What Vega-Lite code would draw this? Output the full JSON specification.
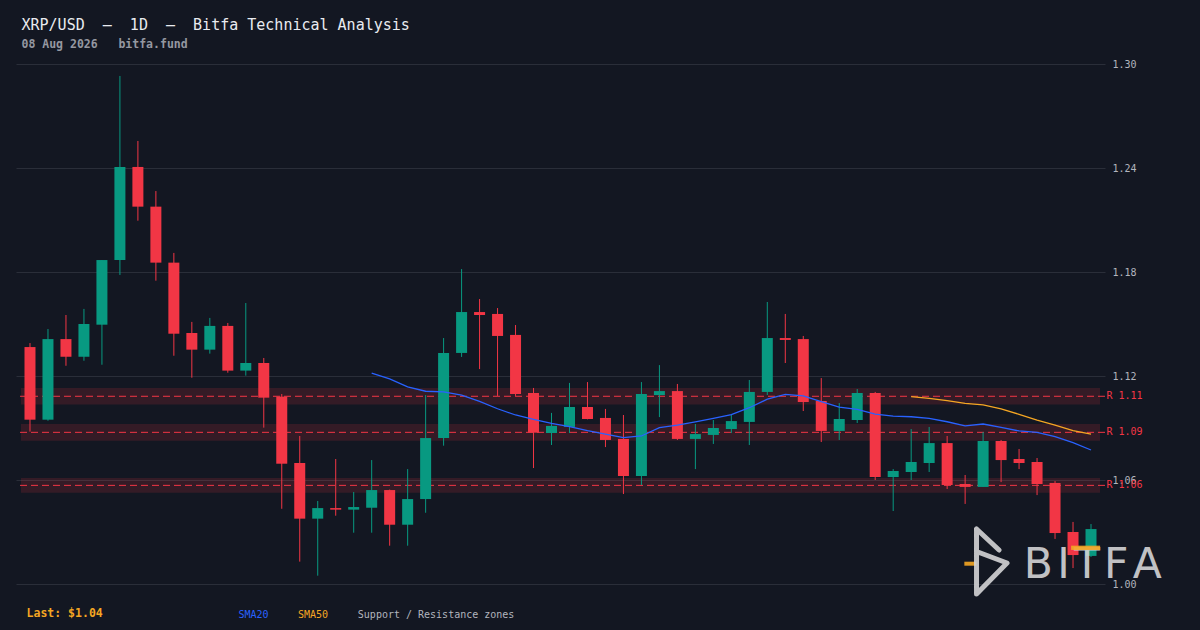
{
  "$schema": "https://vega.github.io/schema/vega-lite/v6.json",
  "autosize": "none",
  "width": 1089,
  "height": 520,
  "padding": {"left": 16, "top": 64, "right": 95, "bottom": 46},
  "background": "#131722",
  "title": {
    "text": "XRP/USD\u00a0\u00a0–\u00a0\u00a01D\u00a0\u00a0–\u00a0\u00a0Bitfa Technical Analysis",
    "subtitle": "08 Aug 2026\u00a0\u00a0\u00a0bitfa.fund",
    "anchor": "start",
    "dx": 6,
    "offset": 9,
    "font": "DejaVu Sans Mono",
    "fontSize": 15,
    "fontWeight": "normal",
    "color": "#e9ebf0",
    "subtitleFont": "DejaVu Sans Mono",
    "subtitleFontSize": 11.5,
    "subtitleFontWeight": "bold",
    "subtitleColor": "#9598a1",
    "subtitlePadding": 6
  },
  "config": {"view": {"stroke": null}},
  "datasets": {
    "candles": [
      {"i": 1, "o": 1.1367, "h": 1.139, "l": 1.0879, "c": 1.0948, "s20": null, "s50": null},
      {"i": 2, "o": 1.0948, "h": 1.1471, "l": 1.0942, "c": 1.1413, "s20": null, "s50": null},
      {"i": 3, "o": 1.1413, "h": 1.1552, "l": 1.1259, "c": 1.1311, "s20": null, "s50": null},
      {"i": 4, "o": 1.1311, "h": 1.1587, "l": 1.1288, "c": 1.15, "s20": null, "s50": null},
      {"i": 5, "o": 1.1496, "h": 1.1869, "l": 1.1265, "c": 1.1869, "s20": null, "s50": null},
      {"i": 6, "o": 1.1869, "h": 1.2931, "l": 1.1783, "c": 1.2406, "s20": null, "s50": null},
      {"i": 7, "o": 1.2406, "h": 1.2556, "l": 1.2096, "c": 1.2177, "s20": null, "s50": null},
      {"i": 8, "o": 1.2177, "h": 1.2267, "l": 1.175, "c": 1.1854, "s20": null, "s50": null},
      {"i": 9, "o": 1.1854, "h": 1.191, "l": 1.1317, "c": 1.1444, "s20": null, "s50": null},
      {"i": 10, "o": 1.1448, "h": 1.1512, "l": 1.119, "c": 1.1352, "s20": null, "s50": null},
      {"i": 11, "o": 1.1352, "h": 1.1535, "l": 1.1329, "c": 1.1489, "s20": null, "s50": null},
      {"i": 12, "o": 1.1489, "h": 1.1506, "l": 1.1219, "c": 1.1231, "s20": null, "s50": null},
      {"i": 13, "o": 1.1231, "h": 1.1621, "l": 1.1202, "c": 1.1275, "s20": null, "s50": null},
      {"i": 14, "o": 1.1275, "h": 1.1304, "l": 1.0902, "c": 1.1075, "s20": null, "s50": null},
      {"i": 15, "o": 1.1081, "h": 1.1096, "l": 1.0434, "c": 1.0694, "s20": null, "s50": null},
      {"i": 16, "o": 1.0698, "h": 1.0854, "l": 1.0129, "c": 1.0377, "s20": null, "s50": null},
      {"i": 17, "o": 1.0377, "h": 1.0479, "l": 1.0048, "c": 1.0438, "s20": null, "s50": null},
      {"i": 18, "o": 1.0438, "h": 1.0721, "l": 1.0394, "c": 1.0429, "s20": null, "s50": null},
      {"i": 19, "o": 1.0429, "h": 1.0531, "l": 1.0296, "c": 1.0444, "s20": null, "s50": null},
      {"i": 20, "o": 1.044, "h": 1.0715, "l": 1.0296, "c": 1.0542, "s20": 1.1216, "s50": null},
      {"i": 21, "o": 1.0542, "h": 1.0545, "l": 1.0221, "c": 1.0342, "s20": 1.1183, "s50": null},
      {"i": 22, "o": 1.0342, "h": 1.0663, "l": 1.0221, "c": 1.049, "s20": 1.1137, "s50": null},
      {"i": 23, "o": 1.049, "h": 1.109, "l": 1.0411, "c": 1.0842, "s20": 1.1112, "s50": null},
      {"i": 24, "o": 1.0842, "h": 1.1419, "l": 1.0798, "c": 1.1333, "s20": 1.1108, "s50": null},
      {"i": 25, "o": 1.1333, "h": 1.1817, "l": 1.131, "c": 1.1569, "s20": 1.109, "s50": null},
      {"i": 26, "o": 1.1569, "h": 1.1644, "l": 1.124, "c": 1.1552, "s20": 1.1054, "s50": null},
      {"i": 27, "o": 1.1558, "h": 1.1592, "l": 1.1085, "c": 1.1431, "s20": 1.1011, "s50": null},
      {"i": 28, "o": 1.1437, "h": 1.1494, "l": 1.1085, "c": 1.1096, "s20": 1.0975, "s50": null},
      {"i": 29, "o": 1.1102, "h": 1.1131, "l": 1.0669, "c": 1.0873, "s20": 1.095, "s50": null},
      {"i": 30, "o": 1.0871, "h": 1.0987, "l": 1.0802, "c": 1.0912, "s20": 1.0927, "s50": null},
      {"i": 31, "o": 1.0906, "h": 1.116, "l": 1.0871, "c": 1.1021, "s20": 1.0908, "s50": null},
      {"i": 32, "o": 1.1021, "h": 1.1165, "l": 1.095, "c": 1.0952, "s20": 1.0885, "s50": null},
      {"i": 33, "o": 1.0958, "h": 1.101, "l": 1.079, "c": 1.0831, "s20": 1.0865, "s50": null},
      {"i": 34, "o": 1.0837, "h": 1.0975, "l": 1.0519, "c": 1.0623, "s20": 1.0844, "s50": null},
      {"i": 35, "o": 1.0623, "h": 1.1165, "l": 1.0571, "c": 1.1096, "s20": 1.0854, "s50": null},
      {"i": 36, "o": 1.109, "h": 1.1263, "l": 1.0963, "c": 1.1113, "s20": 1.0902, "s50": null},
      {"i": 37, "o": 1.1113, "h": 1.1154, "l": 1.0831, "c": 1.0837, "s20": 1.0916, "s50": null},
      {"i": 38, "o": 1.0837, "h": 1.0923, "l": 1.0663, "c": 1.0865, "s20": 1.0935, "s50": null},
      {"i": 39, "o": 1.086, "h": 1.0946, "l": 1.0808, "c": 1.09, "s20": 1.0956, "s50": null},
      {"i": 40, "o": 1.0894, "h": 1.0975, "l": 1.0871, "c": 1.094, "s20": 1.0977, "s50": null},
      {"i": 41, "o": 1.0935, "h": 1.1177, "l": 1.0802, "c": 1.1108, "s20": 1.1017, "s50": null},
      {"i": 42, "o": 1.1108, "h": 1.1627, "l": 1.109, "c": 1.1419, "s20": 1.1066, "s50": null},
      {"i": 43, "o": 1.1419, "h": 1.1558, "l": 1.1275, "c": 1.1408, "s20": 1.1094, "s50": null},
      {"i": 44, "o": 1.1413, "h": 1.1431, "l": 1.0998, "c": 1.105, "s20": 1.1085, "s50": null},
      {"i": 45, "o": 1.1056, "h": 1.1188, "l": 1.0819, "c": 1.0883, "s20": 1.1052, "s50": null},
      {"i": 46, "o": 1.0883, "h": 1.1044, "l": 1.0831, "c": 1.0952, "s20": 1.1021, "s50": null},
      {"i": 47, "o": 1.0946, "h": 1.1125, "l": 1.0929, "c": 1.1102, "s20": 1.1008, "s50": null},
      {"i": 48, "o": 1.1102, "h": 1.1108, "l": 1.06, "c": 1.0617, "s20": 1.098, "s50": null},
      {"i": 49, "o": 1.0617, "h": 1.0663, "l": 1.0421, "c": 1.0652, "s20": 1.0969, "s50": null},
      {"i": 50, "o": 1.0646, "h": 1.0894, "l": 1.06, "c": 1.0704, "s20": 1.0965, "s50": 1.1081},
      {"i": 51, "o": 1.0698, "h": 1.0906, "l": 1.0646, "c": 1.0813, "s20": 1.0956, "s50": 1.1071},
      {"i": 52, "o": 1.0813, "h": 1.0854, "l": 1.0548, "c": 1.0571, "s20": 1.0936, "s50": 1.1058},
      {"i": 53, "o": 1.0577, "h": 1.0629, "l": 1.0462, "c": 1.056, "s20": 1.0912, "s50": 1.1042},
      {"i": 54, "o": 1.056, "h": 1.0877, "l": 1.056, "c": 1.0825, "s20": 1.0923, "s50": 1.1033},
      {"i": 55, "o": 1.0825, "h": 1.0831, "l": 1.0588, "c": 1.0715, "s20": 1.0904, "s50": 1.1011},
      {"i": 56, "o": 1.0721, "h": 1.0779, "l": 1.0663, "c": 1.0698, "s20": 1.0883, "s50": 1.0979},
      {"i": 57, "o": 1.0704, "h": 1.0727, "l": 1.0513, "c": 1.0577, "s20": 1.0875, "s50": 1.0946},
      {"i": 58, "o": 1.0583, "h": 1.0594, "l": 1.026, "c": 1.0294, "s20": 1.085, "s50": 1.0917},
      {"i": 59, "o": 1.03, "h": 1.0358, "l": 1.0092, "c": 1.0167, "s20": 1.0815, "s50": 1.0885},
      {"i": 60, "o": 1.0162, "h": 1.0346, "l": 1.0156, "c": 1.0317, "s20": 1.0773, "s50": 1.0865}
    ],
    "zones": [
      {"lvl": 1.1083, "lo": 1.1035, "hi": 1.1131, "lab": "R 1.11"},
      {"lvl": 1.0875, "lo": 1.0827, "hi": 1.0923, "lab": "R 1.09"},
      {"lvl": 1.0569, "lo": 1.0527, "hi": 1.0612, "lab": "R 1.06"}
    ]
  },
  "layer": [
    {
      "data": {"name": "zones"},
      "mark": {"type": "rect", "color": "#f23645", "opacity": 0.15},
      "encoding": {
        "x": {"datum": 0.5, "type": "quantitative", "scale": {"domain": [0.5, 60.5], "nice": false, "zero": false}, "axis": null},
        "x2": {"datum": 60.5},
        "y": {
          "field": "lo", "type": "quantitative",
          "scale": {"domain": [1.0, 1.3], "nice": false, "zero": false},
          "axis": {
            "orient": "right", "title": null, "values": [1.0, 1.06, 1.12, 1.18, 1.24, 1.3], "format": ".2f",
            "labelFont": "DejaVu Sans Mono", "labelFontSize": 10, "labelColor": "#b2b5be", "labelPadding": 7,
            "labelFlush": false, "labelOverlap": false, "ticks": false, "domain": false,
            "grid": true, "gridColor": "#2a2e39", "gridWidth": 1
          }
        },
        "y2": {"field": "hi"}
      }
    },
    {
      "data": {"name": "zones"},
      "mark": {"type": "rule", "color": "#f23645", "strokeWidth": 1, "strokeDash": [7, 4]},
      "encoding": {"y": {"field": "lvl", "type": "quantitative"}}
    },
    {
      "data": {"name": "zones"},
      "mark": {"type": "text", "align": "left", "baseline": "middle", "font": "DejaVu Sans Mono", "fontSize": 10, "color": "#f23645"},
      "encoding": {
        "x": {"datum": 60.86, "type": "quantitative"},
        "y": {"field": "lvl", "type": "quantitative"},
        "text": {"field": "lab"}
      }
    },
    {
      "data": {"name": "candles"},
      "mark": {"type": "rule", "strokeWidth": 1},
      "encoding": {
        "x": {"field": "i", "type": "quantitative"},
        "y": {"field": "l", "type": "quantitative"},
        "y2": {"field": "h"},
        "color": {"condition": {"test": "datum.c >= datum.o", "value": "#089981"}, "value": "#f23645"}
      }
    },
    {
      "data": {"name": "candles"},
      "mark": {"type": "bar", "width": 11},
      "encoding": {
        "x": {"field": "i", "type": "quantitative"},
        "y": {"field": "o", "type": "quantitative"},
        "y2": {"field": "c"},
        "color": {"condition": {"test": "datum.c >= datum.o", "value": "#089981"}, "value": "#f23645"}
      }
    },
    {
      "data": {"name": "candles"},
      "transform": [{"filter": "datum.s20 != null"}],
      "mark": {"type": "line", "color": "#2962ff", "strokeWidth": 1.3},
      "encoding": {
        "x": {"field": "i", "type": "quantitative"},
        "y": {"field": "s20", "type": "quantitative"}
      }
    },
    {
      "data": {"name": "candles"},
      "transform": [{"filter": "datum.s50 != null"}],
      "mark": {"type": "line", "color": "#f5a623", "strokeWidth": 1.3},
      "encoding": {
        "x": {"field": "i", "type": "quantitative"},
        "y": {"field": "s50", "type": "quantitative"}
      }
    },
    {
      "data": {"values": [{}]},
      "mark": {"type": "text", "align": "left", "baseline": "alphabetic", "font": "DejaVu Sans Mono", "fontSize": 11.5, "fontWeight": "bold", "color": "#f5a623", "text": "Last: $1.04"},
      "encoding": {"x": {"datum": 0.81, "type": "quantitative"}, "y": {"datum": 0.98096, "type": "quantitative"}}
    },
    {
      "data": {"values": [{}]},
      "mark": {"type": "text", "align": "left", "baseline": "alphabetic", "font": "DejaVu Sans Mono", "fontSize": 10, "color": "#2962ff", "text": "SMA20"},
      "encoding": {"x": {"datum": 12.59, "type": "quantitative"}, "y": {"datum": 0.98021, "type": "quantitative"}}
    },
    {
      "data": {"values": [{}]},
      "mark": {"type": "text", "align": "left", "baseline": "alphabetic", "font": "DejaVu Sans Mono", "fontSize": 10, "color": "#f5a623", "text": "SMA50"},
      "encoding": {"x": {"datum": 15.9, "type": "quantitative"}, "y": {"datum": 0.98021, "type": "quantitative"}}
    },
    {
      "data": {"values": [{}]},
      "mark": {"type": "text", "align": "left", "baseline": "alphabetic", "font": "DejaVu Sans Mono", "fontSize": 10, "color": "#b2b5be", "text": "Support / Resistance zones"},
      "encoding": {"x": {"datum": 19.23, "type": "quantitative"}, "y": {"datum": 0.98021, "type": "quantitative"}}
    },
    {
      "data": {"values": [{}]},
      "mark": {"type": "point", "shape": "M-1,0L1,0", "size": 144, "filled": false, "stroke": "#f5a623", "strokeWidth": 4, "opacity": 0.9},
      "encoding": {"x": {"datum": 53.29, "type": "quantitative"}, "y": {"datum": 1.01171, "type": "quantitative"}}
    },
    {
      "data": {"values": [{}]},
      "mark": {"type": "point", "shape": "M-0.414,-0.929L-0.414,0.929L0.457,0.043L-0.414,-0.286M-0.414,-0.929L0.229,-0.329", "size": 4900, "filled": false, "stroke": "#d4d4d6", "strokeWidth": 5, "strokeCap": "round", "strokeJoin": "round", "opacity": 0.9},
      "encoding": {"x": {"datum": 54.44, "type": "quantitative"}, "y": {"datum": 1.01298, "type": "quantitative"}}
    },
    {
      "data": {"values": [{}]},
      "mark": {"type": "text", "align": "left", "baseline": "alphabetic", "font": "DejaVu Sans", "fontSize": 42.5, "color": "#d4d4d6", "opacity": 0.9, "text": "B\u200aI\u200aT\u200aF\u200aA"},
      "encoding": {"x": {"datum": 56.26, "type": "quantitative"}, "y": {"datum": 1.00346, "type": "quantitative"}}
    },
    {
      "data": {"values": [{}]},
      "mark": {"type": "point", "shape": "M-1,0L1,0", "size": 841, "filled": false, "stroke": "#f5a623", "strokeWidth": 4.3, "opacity": 0.9},
      "encoding": {"x": {"datum": 59.7, "type": "quantitative"}, "y": {"datum": 1.02088, "type": "quantitative"}}
    }
  ]
}
